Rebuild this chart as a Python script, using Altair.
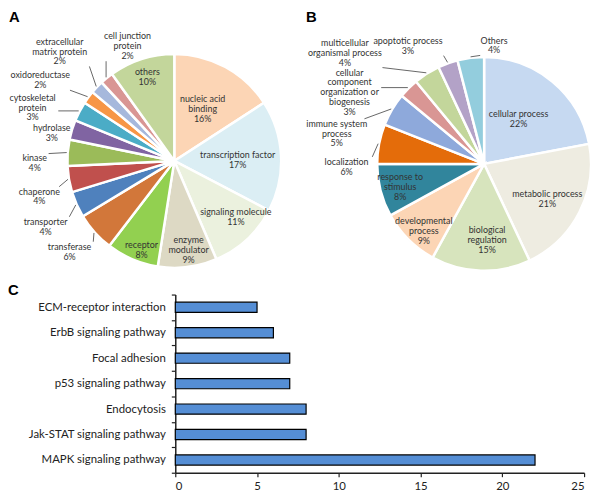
import altair as alt
import pandas as pd

# ---------------- data ----------------
A_LABELS = ["nucleic acid\nbinding", "transcription factor", "signaling molecule",
            "enzyme\nmodulator", "receptor", "transferase", "transporter", "chaperone",
            "kinase", "hydrolase", "cytoskeletal\nprotein", "oxidoreductase",
            "extracellular\nmatrix protein", "cell junction\nprotein", "others"]
A_VALUES = [16, 17, 11, 9, 8, 6, 4, 4, 4, 3, 3, 2, 2, 2, 10]
A_COLORS = ["#FCD5B5", "#DBEEF4", "#EBF1DE", "#DDD9C4", "#92D050", "#D2773A",
            "#4F81BD", "#C0504D", "#9BBB59", "#8064A2", "#4BACC6", "#F79646",
            "#A6B8DC", "#D99694", "#C3D69B"]

B_LABELS = ["cellular process", "metabolic process", "biological\nregulation",
            "developmental\nprocess", "response to\nstimulus", "localization",
            "immune system\nprocess", "cellular\ncomponent\norganization or\nbiogenesis",
            "multicellular\norganismal process", "apoptotic process", "Others"]
B_VALUES = [22, 21, 15, 9, 8, 6, 5, 3, 4, 3, 4]
B_COLORS = ["#C6D9F1", "#EEECE1", "#D7E4BD", "#FCD5B5", "#31859C", "#E46C0A",
            "#8EA9DB", "#D99694", "#C3D69B", "#B3A2C7", "#93CDDD"]

C_PATHWAYS = ["ECM-receptor interaction", "ErbB signaling pathway", "Focal adhesion",
              "p53 signaling pathway", "Endocytosis", "Jak-STAT signaling pathway",
              "MAPK signaling pathway"]
C_COUNTS = [5, 6, 7, 7, 8, 8, 22]

# ---------------- label placement (style) ----------------
A_OUTSIDE = [0, 0, 0, 0, 0, 1, 1, 1, 1, 1, 1, 1, 1, 1, 0]
A_LABEL_R = [60, 64, 84, 91, 96, 140, 146, 141, 141, 127, 153, 158, 160, 125, 89]
A_LABEL_NUDGE = [0, 2, -5, -2, -3, 1, -3, -5, -5.5, -4, -7, -5.5, 0, 17, 0]

B_OUTSIDE = [0, 0, 0, 0, 0, 1, 1, 1, 1, 1, 1]
B_LABEL_R = [57, 73, 77, 91, 88, 139, 152, 154, 180, 142, 120]
B_LABEL_NUDGE = [-2, 2, -4, -3, -1, -12, -19, -17, -19, -13, 12]

R = 108
CHAR_W = 4.0
LINE_H = 10
FONT = "Lato"


def pie_df(labels, values, colors, outside, lr, nudge):
    rows = []
    for i, (l, v, c, o, r, n) in enumerate(zip(labels, values, colors, outside, lr, nudge)):
        text = f"{l}\n{v}%"
        lines = text.split("\n")
        rows.append(dict(idx=i, value=v, color=c, outside=o, lr=r, nudge=n, text=text,
                         nlines=len(lines), maxc=max(len(s) for s in lines)))
    return pd.DataFrame(rows)


def pie_layers(df, cx, cy):
    base = (
        alt.Chart(df)
        .transform_joinaggregate(total="sum(value)")
        .transform_window(cum="sum(value)", sort=[alt.SortField("idx")], frame=[None, 0])
        .transform_calculate(t0="2*PI*(datum.cum-datum.value)/datum.total")
        .transform_calculate(t1="2*PI*datum.cum/datum.total")
        .transform_calculate(tm="(datum.t0+datum.t1)/2")
        .transform_calculate(ta="datum.tm + datum.nudge*PI/180")
        .transform_calculate(sx=f"{cx} + {R + 1}*sin(datum.tm)")
        .transform_calculate(sy=f"{cy} - {R + 1}*cos(datum.tm)")
        .transform_calculate(lx=f"{cx} + datum.lr*sin(datum.ta)")
        .transform_calculate(ly=f"{cy} - datum.lr*cos(datum.ta)")
        .transform_calculate(ly0=f"datum.ly - (datum.nlines-1)*{LINE_H}/2")
        .transform_calculate(hw=f"datum.maxc*{CHAR_W}/2 + 2")
        .transform_calculate(hh=f"datum.nlines*{LINE_H}/2")
        .transform_calculate(ex="clamp(datum.sx, datum.lx-datum.hw, datum.lx+datum.hw)")
        .transform_calculate(ey="clamp(datum.sy, datum.ly-datum.hh, datum.ly+datum.hh)")
    )
    arcs = base.mark_arc(radius=R, stroke="white", strokeWidth=2.5).encode(
        theta=alt.Theta("t0:Q", scale=None),
        theta2=alt.Theta2("t1:Q"),
        x=alt.value(cx),
        y=alt.value(cy),
        fill=alt.Fill("color:N", scale=None),
    )
    leaders = base.transform_filter("datum.outside == 1").mark_rule(
        color="#404040", strokeWidth=0.8
    ).encode(
        x=alt.X("sx:Q", scale=None, axis=None),
        y=alt.Y("sy:Q", scale=None, axis=None),
        x2="ex:Q",
        y2="ey:Q",
    )
    texts = base.mark_text(
        font=FONT, fontSize=9, lineBreak="\n", lineHeight=LINE_H,
        align="center", baseline="middle", color="#333333"
    ).encode(
        x=alt.X("lx:Q", scale=None, axis=None),
        y=alt.Y("ly0:Q", scale=None, axis=None),
        text="text:N",
    )
    return [arcs, leaders, texts]


dfA = pie_df(A_LABELS, A_VALUES, A_COLORS, A_OUTSIDE, A_LABEL_R, A_LABEL_NUDGE)
dfB = pie_df(B_LABELS, B_VALUES, B_COLORS, B_OUTSIDE, B_LABEL_R, B_LABEL_NUDGE)
bar_df = pd.DataFrame({"pathway": C_PATHWAYS, "count": C_COUNTS})

bar = alt.Chart(bar_df).mark_bar(
    color="#558ED5", stroke="black", strokeWidth=1.2,
    height=alt.RelativeBandSize(band=0.4)
).encode(
    x=alt.X(
        "count:Q",
        scale=alt.Scale(domain=[0, 25], range=[169, 582], nice=False, zero=True),
        axis=alt.Axis(values=[0, 5, 10, 15, 20, 25], title=None, grid=False, tickSize=4,
                      labelPadding=4, labelFontSize=11.5, labelFont=FONT, labelColor="#222222",
                      domainColor="#222222", tickColor="#222222", domainWidth=1.5, tickWidth=1.2),
    ),
    y=alt.Y(
        "pathway:N",
        sort=C_PATHWAYS,
        scale=alt.Scale(range=[287, 467], paddingInner=0, paddingOuter=0),
        axis=alt.Axis(title=None, offset=-169, tickBand="extent", tickSize=4, labelPadding=6,
                      labelFontSize=11.5, labelFont=FONT, labelColor="#222222",
                      domainColor="#222222", tickColor="#222222", domainWidth=1.5, tickWidth=1.2),
    ),
)


def letter(t, x, y):
    return alt.Chart(pd.DataFrame({"t": [t]})).mark_text(
        font="Liberation Sans", fontSize=15, fontWeight="bold", align="left",
        baseline="alphabetic", color="#000000"
    ).encode(x=alt.value(x), y=alt.value(y), text="t:N")


layers = [bar] + pie_layers(dfA, 168, 152) + pie_layers(dfB, 481, 155) + [
    letter("A", 1, 12), letter("B", 301, 12), letter("C", 0, 287)
]

chart = alt.layer(*layers).properties(
    width=590, height=467,
    autosize=alt.AutoSizeParams(type="none"),
    padding={"left": 0, "top": 0, "right": 0, "bottom": 20},
).configure_view(stroke=None)

chart.save("out.html", embed_options={"renderer": "svg", "actions": False})
